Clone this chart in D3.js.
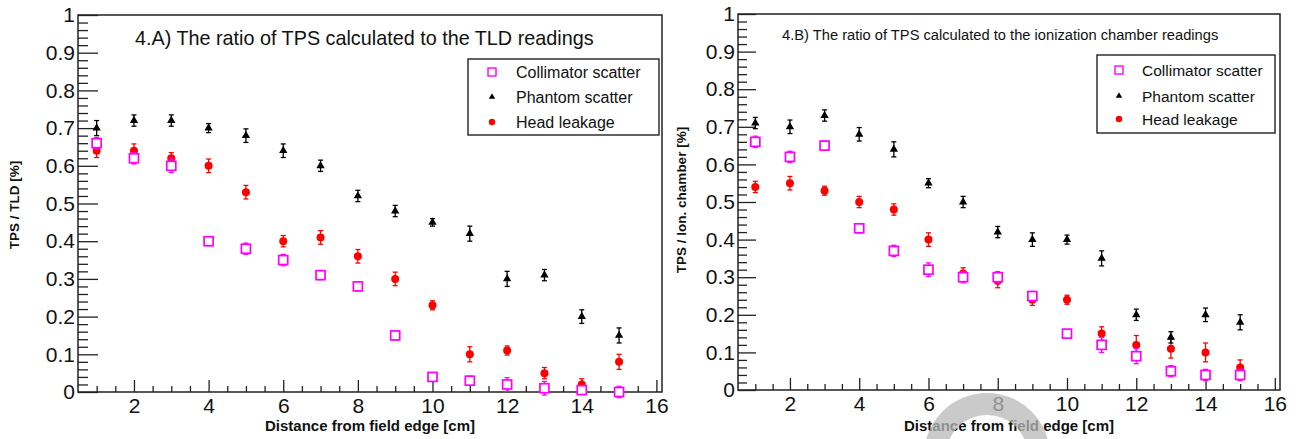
<!DOCTYPE html>
<html>
<head>
<meta charset="utf-8">
<script src="https://cdn.jsdelivr.net/npm/d3@7"></script>
<style>
  body { margin: 0; background: #fff; }
  svg { display: block; font-family: "Liberation Sans", Arial, Helvetica, sans-serif; }
</style>
</head>
<body>
<div id="chart"></div>
<script>
// distance from field edge [cm]
var distances = [1, 2, 3, 4, 5, 6, 7, 8, 9, 10, 11, 12, 13, 14, 15];

// 4.A  TPS / TLD
var tldCollimator = [0.66, 0.62, 0.60, 0.40, 0.38, 0.35, 0.31, 0.28, 0.15, 0.04, 0.03, 0.02, 0.01, 0.005, 0.0];
var tldCollimatorErr = [0.015, 0.015, 0.018, 0.012, 0.015, 0.015, 0.012, 0.012, 0.012, 0.01, 0.012, 0.018, 0.018, 0.01, 0.015];
var tldPhantom = [0.70, 0.72, 0.72, 0.70, 0.68, 0.64, 0.60, 0.52, 0.48, 0.45, 0.42, 0.30, 0.31, 0.20, 0.15];
var tldPhantomErr = [0.02, 0.015, 0.015, 0.012, 0.018, 0.018, 0.015, 0.015, 0.015, 0.01, 0.02, 0.02, 0.015, 0.018, 0.02];
var tldHead = [0.64, 0.64, 0.62, 0.60, 0.53, 0.40, 0.41, 0.36, 0.30, 0.23, 0.10, 0.11, 0.05, 0.02, 0.08];
var tldHeadErr = [0.018, 0.018, 0.015, 0.018, 0.018, 0.015, 0.018, 0.018, 0.018, 0.012, 0.02, 0.012, 0.015, 0.015, 0.02];

// 4.B  TPS / ion. chamber
var icCollimator = [0.66, 0.62, 0.65, 0.43, 0.37, 0.32, 0.30, 0.30, 0.25, 0.15, 0.12, 0.09, 0.05, 0.04, 0.04];
var icCollimatorErr = [0.015, 0.015, 0.012, 0.012, 0.015, 0.018, 0.015, 0.015, 0.012, 0.01, 0.02, 0.02, 0.015, 0.015, 0.015];
var icPhantom = [0.71, 0.70, 0.73, 0.68, 0.64, 0.55, 0.50, 0.42, 0.40, 0.40, 0.35, 0.20, 0.14, 0.20, 0.18];
var icPhantomErr = [0.015, 0.018, 0.015, 0.018, 0.02, 0.012, 0.015, 0.015, 0.018, 0.012, 0.02, 0.015, 0.015, 0.018, 0.02];
var icHead = [0.54, 0.55, 0.53, 0.50, 0.48, 0.40, 0.31, 0.29, 0.24, 0.24, 0.15, 0.12, 0.11, 0.10, 0.06];
var icHeadErr = [0.015, 0.018, 0.012, 0.015, 0.015, 0.018, 0.015, 0.018, 0.015, 0.012, 0.018, 0.025, 0.025, 0.025, 0.02];

var seriesNames = ['Collimator scatter', 'Phantom scatter', 'Head leakage'];
var seriesColors = ['#ff00ff', '#000000', '#ff0000'];
var seriesShapes = ['square', 'triangle', 'circle'];

var xDomain = [0.5, 16.15];
var yDomain = [0, 1];
var xMajor = [2, 4, 6, 8, 10, 12, 14, 16];
var yMajor = d3.range(0, 11).map(function (i) { return i / 10; });

var W = 1297, H = 439;
var svg = d3.select('#chart').append('svg').attr('width', W).attr('height', H);

var panels = [
    {
        box: { left: 78, right: 662, top: 15, bottom: 392 },
        title: '4.A) The ratio of TPS calculated to the TLD readings',
        titleX: 135, titleY: 45, titleSize: 19.8,
        yTitle: 'TPS / TLD [%]', yTitleX: 19, yTitleY: 205,
        legend: { x: 468, y: 59, w: 191, h: 76, rowY: [13, 38, 63], markX: 24, textX: 48, size: 16 },
        values: [tldCollimator, tldPhantom, tldHead],
        errors: [tldCollimatorErr, tldPhantomErr, tldHeadErr],
        tickMajor: 20, tickMinor: 10
    },
    {
        box: { left: 738, right: 1280, top: 14, bottom: 390 },
        title: '4.B) The ratio of TPS calculated to the ionization chamber readings',
        titleX: 782, titleY: 40, titleSize: 14.7,
        yTitle: 'TPS / Ion. chamber [%]', yTitleX: 686, yTitleY: 200,
        legend: { x: 1097, y: 55, w: 178, h: 78, rowY: [15, 41, 64], markX: 22, textX: 45, size: 15.5 },
        values: [icCollimator, icPhantom, icHead],
        errors: [icCollimatorErr, icPhantomErr, icHeadErr],
        tickMajor: 18, tickMinor: 9
    }
];

function drawMarker(sel, shape, color) {
    if (shape === 'square') {
        sel.append('rect').attr('x', -4.5).attr('y', -4.5).attr('width', 9).attr('height', 9)
            .attr('fill', '#fff').attr('stroke', color).attr('stroke-width', 1.7);
    } else if (shape === 'triangle') {
        sel.append('path').attr('d', d3.symbol(d3.symbolTriangle, 30)()).attr('fill', color);
    } else {
        sel.append('circle').attr('r', 4).attr('fill', color);
    }
}

panels.forEach(function (p) {
    var b = p.box;
    var x = d3.scaleLinear().domain(xDomain).range([b.left, b.right]);
    var y = d3.scaleLinear().domain(yDomain).range([b.bottom, b.top]);
    var g = svg.append('g');

    // minor ticks
    var xMinor = d3.range(1, 16.01, 0.5).filter(function (v) { return xMajor.indexOf(v) < 0; });
    var yMinor = d3.range(0, 51).map(function (i) { return i / 50; }).filter(function (v) { return Math.round(v * 50) % 5 !== 0; });

    g.append('g').attr('transform', 'translate(0,' + b.bottom + ')')
        .call(d3.axisBottom(x).tickValues(xMinor).tickSize(-6).tickFormat(''));
    g.append('g').attr('transform', 'translate(' + b.left + ',0)')
        .call(d3.axisLeft(y).tickValues(yMinor).tickSize(-p.tickMinor).tickFormat(''));

    var xa = g.append('g').attr('transform', 'translate(0,' + b.bottom + ')')
        .call(d3.axisBottom(x).tickValues(xMajor).tickSize(-12).tickPadding(6).tickFormat(d3.format('d')));
    var ya = g.append('g').attr('transform', 'translate(' + b.left + ',0)')
        .call(d3.axisLeft(y).tickValues(yMajor).tickSize(-p.tickMajor).tickPadding(3)
            .tickFormat(function (d) { return d === 0 || d === 1 ? String(d) : d3.format('.1f')(d); }));

    g.selectAll('.domain').remove();
    g.selectAll('.tick line').attr('stroke', '#222').attr('stroke-width', 1.3);
    [xa, ya].forEach(function (a) {
        a.selectAll('text').attr('font-size', 21).attr('fill', '#111')
            .attr('font-family', '"Liberation Sans", Arial, sans-serif');
    });

    // frame
    g.append('rect').attr('x', b.left).attr('y', b.top)
        .attr('width', b.right - b.left).attr('height', b.bottom - b.top)
        .attr('fill', 'none').attr('stroke', '#222').attr('stroke-width', 1.5);

    // titles
    g.append('text').attr('x', p.titleX).attr('y', p.titleY)
        .attr('font-size', p.titleSize).attr('fill', '#111').text(p.title);
    g.append('text').attr('x', (b.left + b.right) / 2).attr('y', 431)
        .attr('text-anchor', 'middle').attr('font-size', 15).attr('font-weight', 'bold')
        .attr('fill', '#111').text('Distance from field edge [cm]');
    g.append('text').attr('transform', 'translate(' + p.yTitleX + ',' + p.yTitleY + ') rotate(-90)')
        .attr('text-anchor', 'middle').attr('font-size', 13.5).attr('font-weight', 'bold')
        .attr('fill', '#111').text(p.yTitle);

    // data: draw head leakage, then phantom, then collimator on top
    [2, 1, 0].forEach(function (s) {
        var color = seriesColors[s];
        var pts = distances.map(function (d, i) { return { x: d, v: p.values[s][i], e: p.errors[s][i] }; });
        var sg = g.append('g');
        var pt = sg.selectAll('g.pt').data(pts).enter().append('g').attr('class', 'pt');
        pt.append('line')
            .attr('x1', function (d) { return x(d.x); }).attr('x2', function (d) { return x(d.x); })
            .attr('y1', function (d) { return y(d.v - d.e); }).attr('y2', function (d) { return y(d.v + d.e); })
            .attr('stroke', color).attr('stroke-width', 1.3);
        [-1, 1].forEach(function (sign) {
            pt.append('line')
                .attr('x1', function (d) { return x(d.x) - 2.5; }).attr('x2', function (d) { return x(d.x) + 2.5; })
                .attr('y1', function (d) { return y(d.v + sign * d.e); }).attr('y2', function (d) { return y(d.v + sign * d.e); })
                .attr('stroke', color).attr('stroke-width', 1.3);
        });
        pt.append('g').attr('transform', function (d) { return 'translate(' + x(d.x) + ',' + y(d.v) + ')'; })
            .each(function () { drawMarker(d3.select(this), seriesShapes[s], color); });
    });

    // legend
    var L = p.legend;
    var lg = g.append('g').attr('transform', 'translate(' + L.x + ',' + L.y + ')');
    lg.append('rect').attr('width', L.w).attr('height', L.h)
        .attr('fill', '#fff').attr('stroke', '#222').attr('stroke-width', 1.4);
    var rows = lg.selectAll('g.row').data(seriesNames).enter().append('g')
        .attr('transform', function (d, i) { return 'translate(0,' + L.rowY[i] + ')'; });
    rows.each(function (d, i) {
        var r = d3.select(this);
        var m = r.append('g').attr('transform', 'translate(' + L.markX + ',0)');
        if (seriesShapes[i] === 'square') {
            m.append('rect').attr('x', -4).attr('y', -4).attr('width', 8).attr('height', 8)
                .attr('fill', '#fff').attr('stroke', seriesColors[i]).attr('stroke-width', 1.4);
        } else if (seriesShapes[i] === 'triangle') {
            m.append('path').attr('d', d3.symbol(d3.symbolTriangle, 18)()).attr('fill', seriesColors[i]);
        } else {
            m.append('circle').attr('r', 3.2).attr('fill', seriesColors[i]);
        }
        r.append('text').attr('x', L.textX).attr('dy', '0.36em')
            .attr('font-size', L.size).attr('fill', '#111').text(d);
    });
});

// grey watermark arc over the lower right panel
svg.append('path')
    .attr('transform', 'translate(987,456)')
    .attr('d', d3.arc().innerRadius(41).outerRadius(63).startAngle(-Math.PI / 2).endAngle(Math.PI / 2)())
    .attr('fill', '#b8b8b8').attr('fill-opacity', 0.75);
</script>
</body>
</html>
